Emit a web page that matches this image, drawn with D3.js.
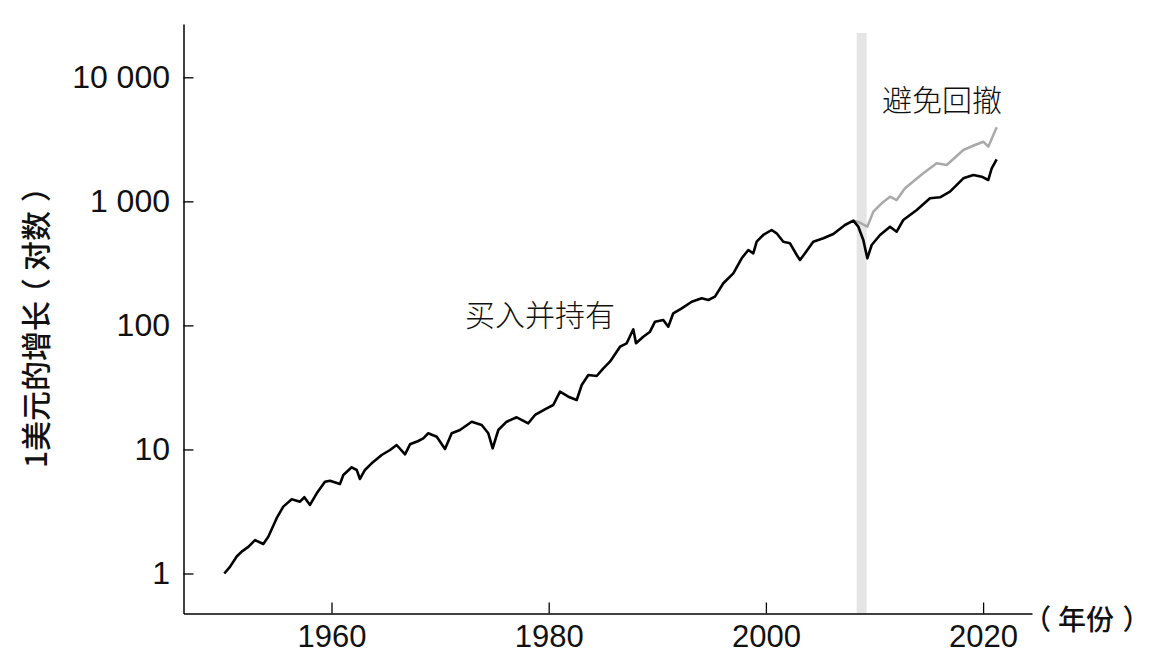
<!DOCTYPE html>
<html><head><meta charset="utf-8">
<script src="https://cdn.jsdelivr.net/npm/d3@7"></script>
<style>
body{margin:0;background:#fff}
.num{font-family:"Helvetica Neue",Helvetica,"Liberation Sans",Arial,sans-serif;font-weight:300}
.cjk{font-family:"Noto Sans CJK SC","Noto Sans",sans-serif}
</style>
</head><body>
<svg id="c" width="1158" height="664"></svg>
<script>
// ---- data ----
const years = [1950.13,1950.65,1951.27,1951.73,1952.34,1952.96,1953.72,1954.18,1954.95,1955.56,1956.34,1957.10,1957.50,1958.02,1958.64,1959.40,1959.86,1960.78,1961.09,1961.86,1962.32,1962.62,1963.08,1963.70,1964.62,1965.39,1966.00,1966.77,1967.23,1967.99,1968.45,1968.91,1969.69,1970.45,1971.07,1971.83,1972.91,1973.83,1974.44,1974.84,1975.36,1976.13,1977.05,1978.12,1978.74,1979.82,1980.42,1981.04,1981.81,1982.58,1983.04,1983.65,1984.42,1985.03,1985.64,1985.95,1986.57,1987.18,1987.79,1988.04,1988.71,1989.33,1989.79,1990.55,1991.01,1991.47,1992.25,1993.17,1994.09,1994.70,1995.31,1996.08,1997.00,1997.77,1998.38,1998.84,1999.15,1999.76,2000.53,2000.99,2001.60,2002.22,2002.84,2003.14,2003.60,2004.36,2005.29,2006.21,2007.28,2008.05,2008.51,2008.97,2009.34,2009.74,2010.51,2011.43,2012.04,2012.65,2013.89,2015.11,2016.03,2016.95,2018.18,2019.10,2019.87,2020.48,2020.79,2021.25];
const buyHold = [1.00,1.13,1.37,1.50,1.64,1.86,1.73,1.98,2.79,3.46,3.96,3.79,4.12,3.57,4.43,5.50,5.60,5.27,6.22,7.18,6.83,5.78,6.83,7.73,9.02,9.90,10.86,9.14,11.00,11.70,12.30,13.50,12.67,10.08,13.50,14.35,16.74,15.74,13.50,10.21,14.35,16.74,18.16,16.25,18.96,21.46,22.82,29.21,26.62,25.03,33.07,39.82,39.09,45.10,50.98,55.93,67.35,71.73,93.0,71.73,81.1,88.96,107.1,110.5,97.6,125.2,137.3,155.2,165.4,160.2,170.4,218.5,263.0,347.4,405.3,381.2,472.9,535.6,587.5,552.5,472.9,459.0,369.4,336.7,381.2,472.9,503.6,545.4,644.8,698.2,624.6,488.0,347.4,444.7,535.6,624.6,569.2,707.3,851.6,1058,1078,1196,1534,1631,1580,1486,1846,2183];
const avoidYears = [2008.05,2008.51,2009.34,2009.89,2010.66,2011.43,2012.04,2012.81,2014.49,2015.73,2016.65,2018.18,2019.25,2020.02,2020.48,2021.25];
const avoidValues = [698.2,682,624.6,825.2,964.6,1090,1025,1274,1683,2026,1963,2594,2846,3025,2757,3954];
const bandYears = [2008.36, 2009.28];
const yTicks = [1,10,100,1000,10000];
const yTickLabels = ["1","10","100","1 000","10 000"];
const xTicks = [1960,1980,2000,2020];
const xTickLabels = ["1960","1980","2000","2020"];
const yTitle = "1美元的增长（对数）";
const xTitle = "（年份）";
const labelBuy = "买入并持有";
const labelAvoid = "避免回撤";

// ---- scales ----
const x = d3.scaleLinear().domain([1960,2020]).range([331.5,983.1]);
x.domain([x.invert(183.5), x.invert(1032)]).range([183.5,1032]);
const y = d3.scaleLog().domain([1,10000]).range([573.5,77.3]);
y.domain([y.invert(613.5), y.invert(24)]).range([613.5,24]);

const svg = d3.select("#c");

// band
svg.append("rect")
  .attr("x", x(bandYears[0])).attr("width", x(bandYears[1]) - x(bandYears[0]))
  .attr("y", 33).attr("height", y.range()[0] - 33)
  .attr("fill", "#e5e5e5");

const line = d3.line().x(d => x(d[0])).y(d => y(d[1]));

svg.append("path")
  .datum(avoidYears.map((t,i) => [t, avoidValues[i]]))
  .attr("d", line).attr("fill","none").attr("stroke","#a9a9a9")
  .attr("stroke-width",2.5).attr("stroke-linejoin","round");

svg.append("path")
  .datum(years.map((t,i) => [t, buyHold[i]]))
  .attr("d", line).attr("fill","none").attr("stroke","#000")
  .attr("stroke-width",2.6).attr("stroke-linejoin","round");

// axes
const yAxis = svg.append("g").attr("transform","translate(183.5,0)")
  .call(d3.axisLeft(y).tickValues(yTicks).tickFormat((d,i)=>yTickLabels[i])
    .tickSize(-10).tickSizeOuter(0).tickPadding(13.5));
const xAxis = svg.append("g").attr("transform","translate(0,613.5)")
  .call(d3.axisBottom(x).tickValues(xTicks).tickFormat((d,i)=>xTickLabels[i])
    .tickSize(-11).tickSizeOuter(0).tickPadding(11));
[yAxis, xAxis].forEach(g => {
  g.select(".domain").attr("stroke","#000").attr("stroke-width",1.5);
  g.selectAll(".tick line").attr("stroke","#000").attr("stroke-width",1.3);
  g.selectAll(".tick text").attr("class","num").attr("fill","#111");
});
yAxis.selectAll(".tick text").style("font-size","32px");
xAxis.selectAll(".tick text").style("font-size","31px");

// helper: CJK text with visually centered full-width parentheses
function cjkText(sel, str) {
  let carry = 0;
  Array.from(str).forEach(ch => {
    let dx = carry; carry = 0;
    if (ch === "（") { dx -= 0.24; carry = 0.24; }
    if (ch === "）") { dx += 0.3; }
    const t = sel.append("tspan").text(ch);
    if (dx !== 0) t.attr("dx", dx + "em");
  });
  return sel;
}

// titles & annotations
cjkText(svg.append("text").attr("class","cjk")
  .attr("transform","translate(34,320) rotate(-90)")
  .attr("text-anchor","middle").attr("dominant-baseline","central")
  .style("font-size","30px").style("font-weight",500).attr("fill","#111"), yTitle);
cjkText(svg.append("text").attr("class","cjk")
  .attr("x",1030).attr("y",630)
  .style("font-size","28px").style("font-weight",500).attr("fill","#111"), xTitle);
svg.append("text").attr("class","cjk")
  .attr("x",465).attr("y",326.4)
  .style("font-size","30px").style("font-weight",300).attr("fill","#111")
  .text(labelBuy);
svg.append("text").attr("class","cjk")
  .attr("x",882).attr("y",111.4)
  .style("font-size","30px").style("font-weight",300).attr("fill","#111")
  .text(labelAvoid);
</script>
</body></html>
